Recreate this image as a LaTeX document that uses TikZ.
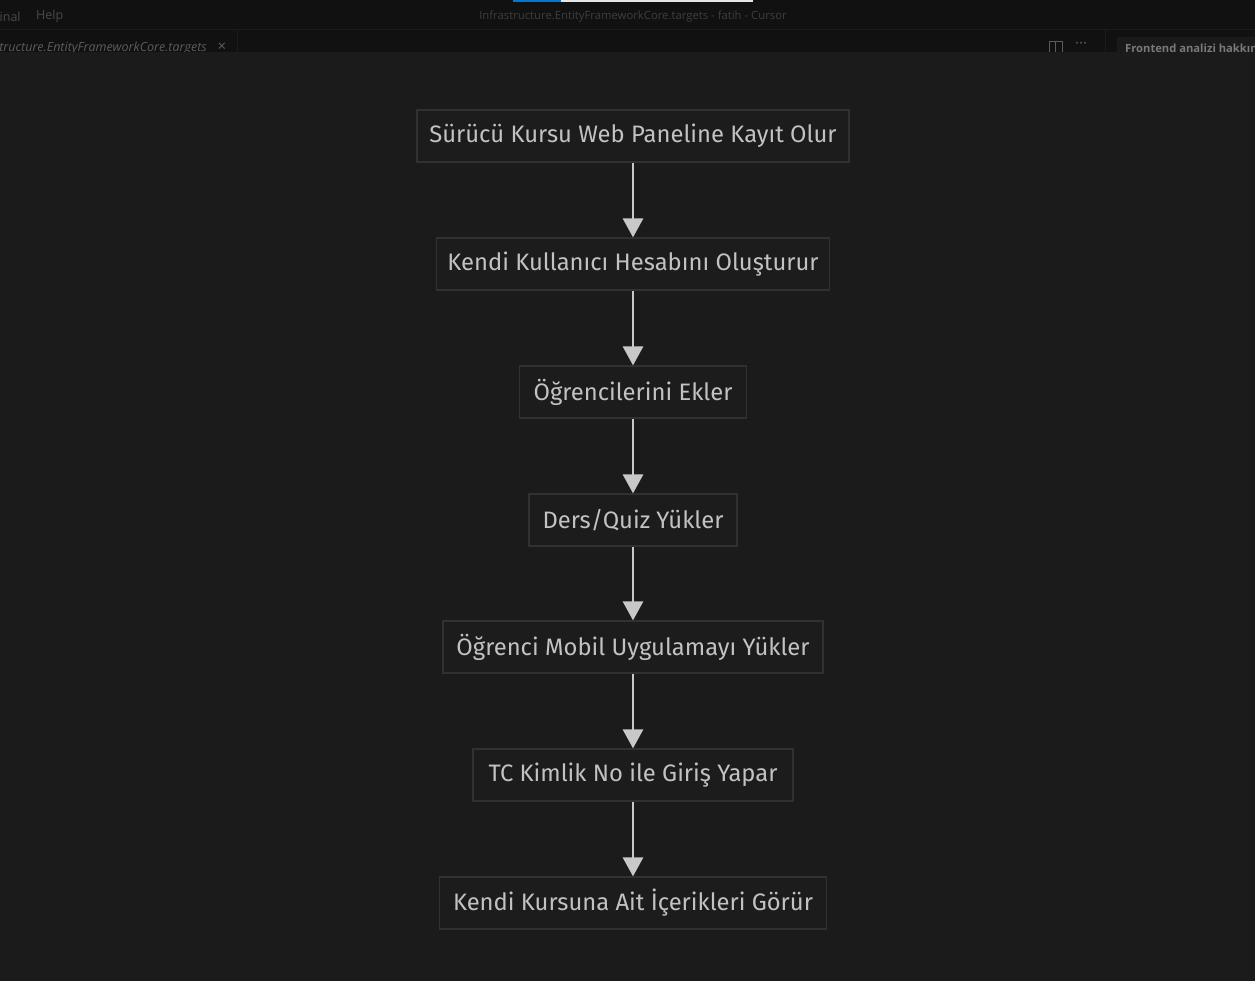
\documentclass[tikz,border=0pt]{standalone}
\usepackage{fontspec}
\setmainfont{Fira Sans}
\newfontfamily\uifont{Open Sans}
\usetikzlibrary{arrows.meta}
\definecolor{chrome}{HTML}{111111}
\definecolor{chromeline}{HTML}{1C1C1C}
\definecolor{canvas}{HTML}{1B1B1B}
\definecolor{boxfill}{HTML}{1C1C1C}
\definecolor{boxline}{HTML}{313131}
\definecolor{labeltext}{HTML}{C2C2C2}
\definecolor{arrowcol}{HTML}{C8C8C8}
\definecolor{dimtext}{HTML}{3E3E3E}
\definecolor{menutext}{HTML}{4A4A4A}
\definecolor{tabtext}{HTML}{5C5C5C}
\definecolor{paneltext}{HTML}{7A7A7A}
\definecolor{panelfill}{HTML}{1A1A1A}
\definecolor{accentblue}{HTML}{0078D4}
\definecolor{accentwhite}{HTML}{E6E6E6}
\begin{document}
\begin{tikzpicture}[x=1pt,y=-1pt,
  flowbox/.style={draw=boxline, fill=boxfill, line width=1.2pt, minimum height=52pt,
    inner sep=0pt, text=labeltext, font=\fontsize{23.8}{28}\selectfont},
  flowarrow/.style={draw=arrowcol, line width=2.8pt,
    -{Triangle[length=19pt,width=20pt]}},
  uitext/.style={inner sep=0pt, font=\uifont\fontsize{12.5}{15}\selectfont}]
\useasboundingbox (0,0) rectangle (1255,980);
% window chrome
\fill[chrome] (-5,-5) rectangle (1260,52);
\draw[chromeline, line width=0.8pt] (0,29) -- (1255,29);
\draw[chromeline, line width=0.8pt] (237,29) -- (237,52);
\draw[chromeline, line width=0.8pt] (1105,29) -- (1105,52);
\fill[accentblue] (513,-2) rectangle (561,1.6);
\fill[accentwhite] (561,-2) rectangle (753,1.6);
\node[uitext, text=menutext, anchor=west] (menuA) at (-0.5,16.5) {inal};
\node[uitext, text=menutext, anchor=west] (menuB) at (36,16.5) {Help};
\node[uitext, text=dimtext, font=\uifont\fontsize{11.3}{14}\selectfont] (title) at (633,17) {Infrastructure.EntityFrameworkCore.targets - fatih - Cursor};
\node[uitext, text=tabtext, anchor=east, font=\uifont\itshape\fontsize{12.5}{15}\selectfont] (tab) at (207,48.5) {tructure.EntityFrameworkCore.targets};
\node[uitext, text=tabtext, font=\uifont\fontsize{15}{15}\selectfont] (tabclose) at (222,47.5) {×};
\draw[tabtext, line width=0.9pt] (1049,41) rectangle (1062,56);
\draw[tabtext, line width=0.9pt] (1055.5,41) -- (1055.5,56);
\node[uitext, text=tabtext, font=\uifont\fontsize{15}{15}\selectfont] (more) at (1081,45.5) {···};
\fill[panelfill] (1117,37) rectangle (1260,60);
\node[uitext, text=paneltext, anchor=west, font=\uifont\bfseries\fontsize{11.2}{15}\selectfont] (panel) at (1125,48) {Frontend analizi hakkında};
% canvas
\fill[canvas] (-5,52) rectangle (1260,985);
% flow
\node[flowbox, minimum width=432pt] (s1) at (633,136) {Sürücü Kursu Web Paneline Kayıt Olur};
\node[flowbox, minimum width=393pt] (s2) at (633,264) {Kendi Kullanıcı Hesabını Oluşturur};
\node[flowbox, minimum width=227pt] (s3) at (633,392) {Öğrencilerini Ekler};
\node[flowbox, minimum width=208pt] (s4) at (633,520) {Ders/Quiz Yükler};
\node[flowbox, minimum width=380pt] (s5) at (633,647) {Öğrenci Mobil Uygulamayı Yükler};
\node[flowbox, minimum width=320pt] (s6) at (633,775) {TC Kimlik No ile Giriş Yapar};
\node[flowbox, minimum width=387pt] (s7) at (633,903) {Kendi Kursuna Ait İçerikleri Görür};
\foreach \a/\b in {s1/s2,s2/s3,s3/s4,s4/s5,s5/s6,s6/s7}
  \draw[flowarrow] (\a.south) -- (\b.north);
\end{tikzpicture}
\end{document}
